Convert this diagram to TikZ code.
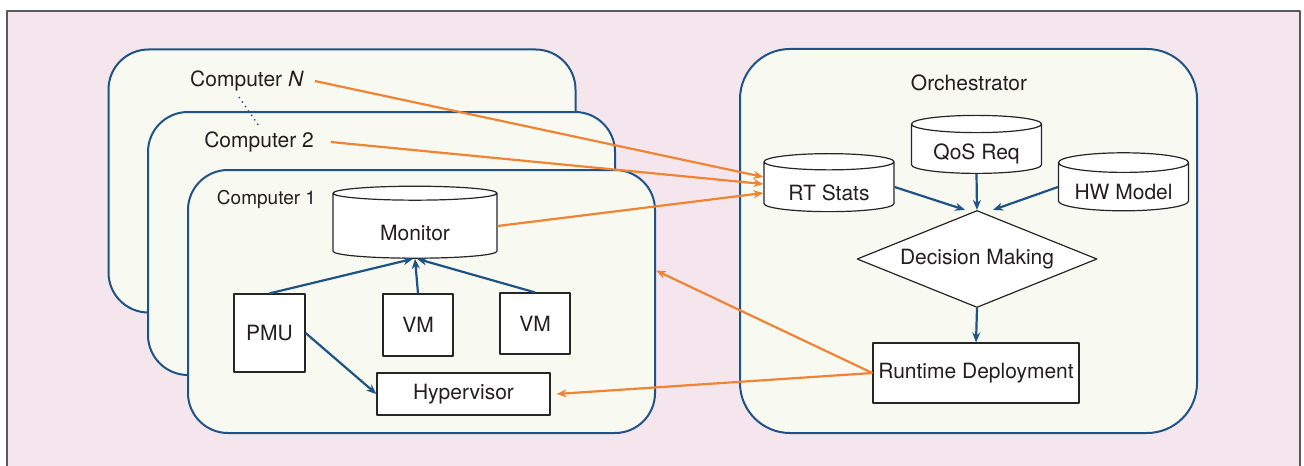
\documentclass[tikz,border=0pt]{standalone}
\usepackage{fontspec}
\setmainfont{TeX Gyre Heros}
\usetikzlibrary{shapes.geometric,arrows.meta}
\definecolor{bgpink}{RGB}{245,230,238}
\definecolor{boxfill}{RGB}{248,249,241}
\definecolor{frameblue}{RGB}{31,82,133}
\definecolor{linkorange}{RGB}{240,132,50}
\definecolor{txtgray}{RGB}{35,31,32}
\newcommand{\lowtext}[2][2.7pt]{\raisebox{-#1}[\height][\depth]{#2}}
\begin{document}
\begin{tikzpicture}[x=0.5pt,y=-0.5pt,line join=round,>={Stealth[length=5pt,width=4pt]},
	font=\fontsize{10.5}{12}\selectfont,text=txtgray]
	\tikzset{host/.style={draw=frameblue,line width=1pt,fill=boxfill,rounded corners=20pt,
			minimum width=233.5pt,minimum height=131.5pt,inner sep=0pt},
		block/.style={draw=black!85,line width=0.6pt,fill=white,inner sep=0pt},
		store/.style={block,cylinder,shape border rotate=90,aspect=0.2,
			minimum width=65pt,minimum height=29pt},
		decision/.style={block,diamond,aspect=2.5,minimum width=120pt,minimum height=48.5pt},
		ctrl/.style={->,draw=frameblue,line width=1.1pt},
		link/.style={->,draw=linkorange,line width=1.1pt}}
	\useasboundingbox (0,0) rectangle (1304,465);
	\fill[white] (0,0) rectangle (1304,465);
	\draw[draw=black!65,fill=bgpink,line width=0.8pt] (7,11) rectangle (1300,490);
	% computers
	\node[host] (compN) at (342,181) {};
	\node[host] (comp2) at (381.5,243.5) {};
	\node[host] (comp1) at (421.5,301.5) {};
	\node (labN) at (247,81) {Computer \textit{N}};
	\node (lab2) at (259,142) {Computer 2};
	\node[font=\fontsize{9.5}{11}\selectfont] (lab1) at (266.5,199) {Computer 1};
	\coordinate (dotN) at (239,97);
	\coordinate (dot2) at (259,126);
	\draw[frameblue,dotted,line width=0.7pt] (dotN)--(dot2);
	\node[store,minimum width=82pt,minimum height=36pt] (mon) at (415,226) {\lowtext[3.5pt]{Monitor}};
	\node[block,minimum width=35.5pt,minimum height=39pt] (pmu) at (269.5,333) {PMU};
	\node[block,minimum width=35pt,minimum height=31pt] (vma) at (418,325) {VM};
	\node[block,minimum width=35pt,minimum height=30.5pt] (vmb) at (535,323.5) {VM};
	\node[block,minimum width=86.5pt,minimum height=21pt] (hyp) at (463.5,394) {Hypervisor};
	% orchestrator
	\node[host,minimum width=228.5pt,minimum height=192pt,rounded corners=25pt] (orch) at (968.5,241) {};
	\node (labO) at (969,83) {Orchestrator};
	\node[store] (rts) at (829,187) {\lowtext{RT Stats}};
	\node[store] (qos) at (976.5,149) {\lowtext{QoS Req}};
	\node[store] (hwm) at (1123.5,187) {\lowtext{HW Model}};
	\node[decision] (dec) at (977,259) {Decision Making};
	\node[block,minimum width=103pt,minimum height=30pt] (rtd) at (976,373) {Runtime Deployment};
	% connectors
	\draw[ctrl] (pmu.north)--([xshift=-1pt]mon.south);
	\draw[ctrl] (vma.north)--(mon.south);
	\draw[ctrl] (vmb.north)--([xshift=1pt]mon.south);
	\draw[ctrl] (pmu.east)--(hyp.west);
	\draw[ctrl] (rts.east)--([xshift=-6pt]dec.north);
	\draw[ctrl] (qos.south)--(dec.north);
	\draw[ctrl] (hwm.west)--([xshift=8pt]dec.north);
	\draw[ctrl] (dec.south)--(rtd.north);
	\draw[link] ([xshift=2pt]labN.east)--([yshift=5pt]rts.west);
	\draw[link] ([xshift=5pt]lab2.east)--([yshift=1.5pt]rts.west);
	\draw[link] (mon.east)--([yshift=-3pt]rts.west);
	\draw[link] (rtd.west)--([yshift=15.5pt]comp1.east);
	\draw[link] (rtd.west)--([xshift=3pt]hyp.east);
\end{tikzpicture}
\end{document}
